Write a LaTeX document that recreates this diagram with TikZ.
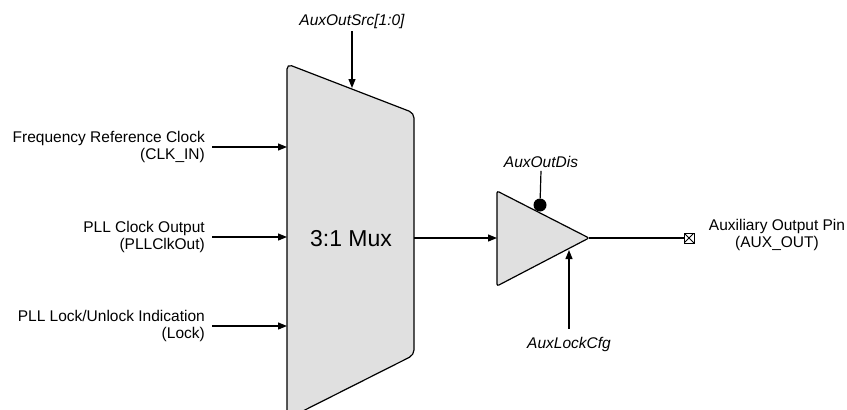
\documentclass[tikz,border=0pt]{standalone}
\usepackage{fontspec}
\setmainfont{Liberation Sans}
\usetikzlibrary{arrows.meta}

\definecolor{muxgray}{RGB}{224,224,224}

\tikzset{
  sig/.style={line width=1.2pt, -{Triangle[length=9pt,width=7pt]}},
  wire/.style={line width=1.2pt},
  inlabel/.style={anchor=east, align=right, inner sep=0pt, font=\fontsize{15.5}{17}\selectfont},
  ctllabel/.style={inner sep=0pt, font=\fontsize{15.5}{17}\selectfont\itshape},
  pinbox/.style={draw, line width=1pt, minimum size=10pt, inner sep=0pt,
    path picture={\draw[line width=0.8pt] (path picture bounding box.north west) -- (path picture bounding box.south east)
      (path picture bounding box.north east) -- (path picture bounding box.south west);}},
}

\begin{document}
\begin{tikzpicture}[x=1pt,y=-1pt]
\useasboundingbox (0,0) rectangle (847,410);
\clip (0,0) rectangle (847,410);

% mux outline
\coordinate (mtl) at (287,64);
\coordinate (mtr) at (414,113);
\coordinate (mbr) at (414,355);
\coordinate (mbl) at (287,419);
\draw[wire, fill=muxgray, rounded corners=5pt] (mtl) -- (mtr) -- (mbr) -- (mbl) -- cycle;
\node[font=\fontsize{23}{26}\selectfont] (mux) at (351,239) {3:1 Mux};

% buffer
\coordinate (btl) at (497,191);
\coordinate (btip) at (589,238);
\coordinate (bbl) at (497,286);
\draw[wire, fill=muxgray, rounded corners=2pt] (btl) -- (btip) -- (bbl) -- cycle;
\node[circle, fill=black, minimum size=13pt, inner sep=0pt] (dis) at (540,205) {};

% inputs
\node[inlabel] (clkin) at (205,147) {Frequency Reference Clock\\(CLK\_IN)};
\node[inlabel] (pllout) at (205,237) {PLL Clock Output\\(PLLClkOut)};
\node[inlabel] (lock) at (205,326) {PLL Lock/Unlock Indication\\(Lock)};
\foreach \n in {clkin,pllout,lock}
  \draw[sig] ([xshift=7pt]\n.east) -- (\n.east -| mtl);

% select
\node[ctllabel] (src) at (352,21) {AuxOutSrc[1:0]};
\coordinate (srcin) at (352,88);
\draw[sig] ([yshift=-3pt]src.south) -- (srcin);

% mux to buffer
\coordinate (bin) at (497,238);
\draw[sig] (bin -| mtr) -- (bin);

% buffer controls
\node[ctllabel] (outdis) at (541,162) {AuxOutDis};
\draw[wire] ([yshift=-3pt]outdis.south) -- (dis);
\node[ctllabel] (lockcfg) at (569,344) {AuxLockCfg};
\coordinate (cfgin) at (569,250);
\draw[sig] ([yshift=8pt]lockcfg.north) -- (cfgin);

% output pin
\node[pinbox] (pin) at (689,238) {};
\draw[wire] (btip) -- (pin.west);
\node[align=center, inner sep=0pt, font=\fontsize{15.5}{17}\selectfont] (auxout) at (777,235) {Auxiliary Output Pin\\(AUX\_OUT)};
\end{tikzpicture}
\end{document}
